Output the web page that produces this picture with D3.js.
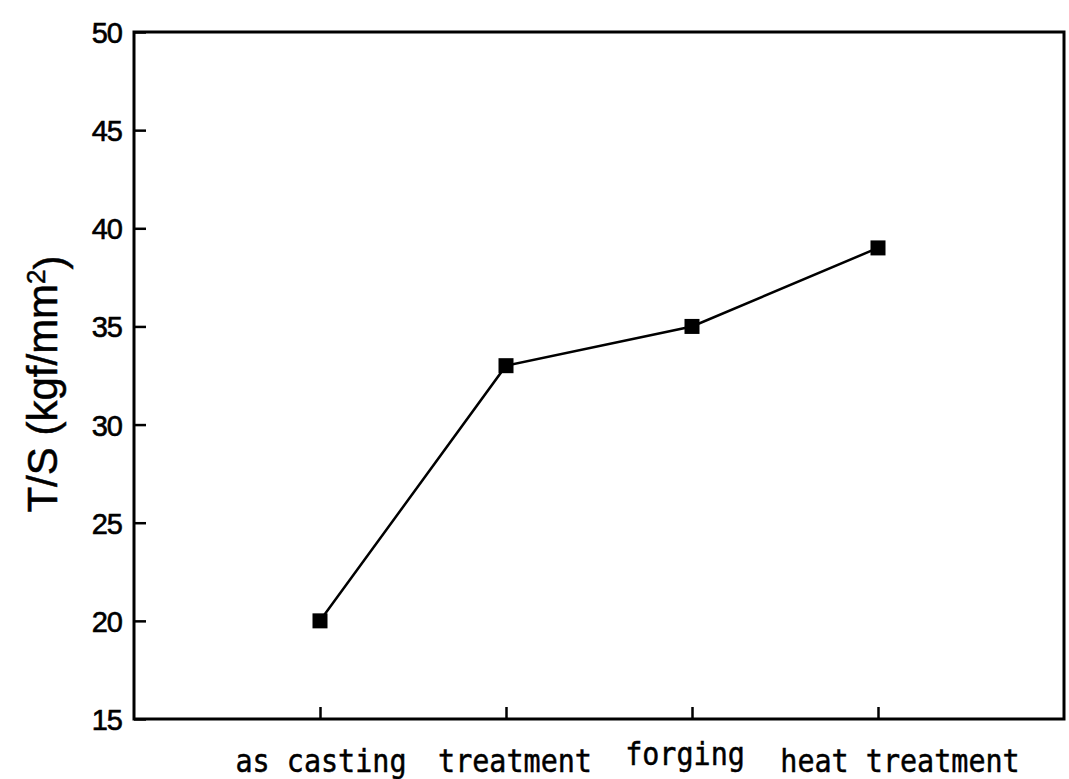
<!DOCTYPE html>
<html>
<head>
<meta charset="utf-8">
<script src="https://cdn.jsdelivr.net/npm/d3@7"></script>
<style>
  html, body { margin: 0; padding: 0; background: #fff; }
  svg { display: block; }
</style>
</head>
<body>
<svg id="chart" width="1069" height="779"></svg>
<script>
// Processing stages and tensile strength at each stage
const stages = ["as casting", "treatment", "forging", "heat treatment"];
const stagePos = [1, 2, 3, 4];
const tensile = [20, 33, 35, 39];
const yTicks = [15, 20, 25, 30, 35, 40, 45, 50];

// Plot frame
const frame = { left: 134, right: 1064, top: 32, bottom: 719 };

const svg = d3.select("#chart");

const x = d3.scaleLinear().domain([0, 5]).range([frame.left, frame.right]);
const y = d3.scaleLinear().domain([15, 50]).range([frame.bottom, frame.top]);

// Left axis: inward ticks, labels placed outside
const yAxis = d3.axisLeft(y).tickValues(yTicks).tickSizeInner(-12).tickSizeOuter(0).tickPadding(12);
const gy = svg.append("g").attr("transform", `translate(${frame.left},0)`).call(yAxis);
gy.select(".domain").remove();
gy.selectAll(".tick line").attr("stroke", "#000").attr("stroke-width", 2.5);
gy.selectAll(".tick text")
  .attr("fill", "#000")
  .attr("stroke", "#000")
  .attr("stroke-width", 0.6)
  .style("font-family", "'Liberation Sans', Arial, sans-serif")
  .style("font-size", "29px")
  .style("letter-spacing", "-1px")
  .attr("dy", "0.36em");

// Bottom axis: inward ticks, category labels drawn separately
const xAxis = d3.axisBottom(x).tickValues(stagePos).tickSizeInner(-12).tickSizeOuter(0).tickFormat("");
const gx = svg.append("g").attr("transform", `translate(0,${frame.bottom})`).call(xAxis);
gx.select(".domain").remove();
gx.selectAll(".tick line").attr("stroke", "#000").attr("stroke-width", 2.5);

// Frame
svg.append("rect")
  .attr("x", frame.left).attr("y", frame.top)
  .attr("width", frame.right - frame.left).attr("height", frame.bottom - frame.top)
  .attr("fill", "none").attr("stroke", "#000").attr("stroke-width", 3);

// Category labels (narrow monospaced lettering)
const labelNudge = [[1, 0], [9, 0], [-7, -7], [22, 0]];
svg.append("g").selectAll("text")
  .data(stages)
  .join("text")
  .attr("x", (d, i) => x(stagePos[i]) + labelNudge[i][0])
  .attr("y", (d, i) => 772 + labelNudge[i][1])
  .attr("text-anchor", "middle")
  .attr("textLength", d => d.length * 17.1)
  .attr("lengthAdjust", "spacingAndGlyphs")
  .attr("stroke", "#000")
  .attr("stroke-width", 0.5)
  .style("font-family", "'DejaVu Sans Mono', 'Liberation Mono', monospace")
  .style("font-size", "32px")
  .attr("fill", "#000")
  .text(d => d);

// Y axis title
const title = svg.append("text")
  .attr("transform", "translate(57,384) rotate(-90)")
  .attr("text-anchor", "middle")
  .attr("stroke", "#000")
  .attr("stroke-width", 0.5)
  .style("font-family", "'Liberation Sans', Arial, sans-serif")
  .style("font-size", "42px")
  .attr("fill", "#000");
title.append("tspan").text("T/S (kgf/mm");
title.append("tspan").attr("dy", "-0.45em").style("font-size", "26px").text("2");
title.append("tspan").attr("dy", "0.45em").text(")");

// Series line and square markers
const pts = tensile.map((v, i) => [stagePos[i], v]);
svg.append("path")
  .datum(pts)
  .attr("fill", "none")
  .attr("stroke", "#000")
  .attr("stroke-width", 2.5)
  .attr("d", d3.line().x(d => x(d[0])).y(d => y(d[1])));

const m = 15;
svg.append("g").selectAll("rect")
  .data(pts)
  .join("rect")
  .attr("x", d => x(d[0]) - m / 2)
  .attr("y", d => y(d[1]) - m / 2)
  .attr("width", m).attr("height", m)
  .attr("fill", "#000");
</script>
</body>
</html>
